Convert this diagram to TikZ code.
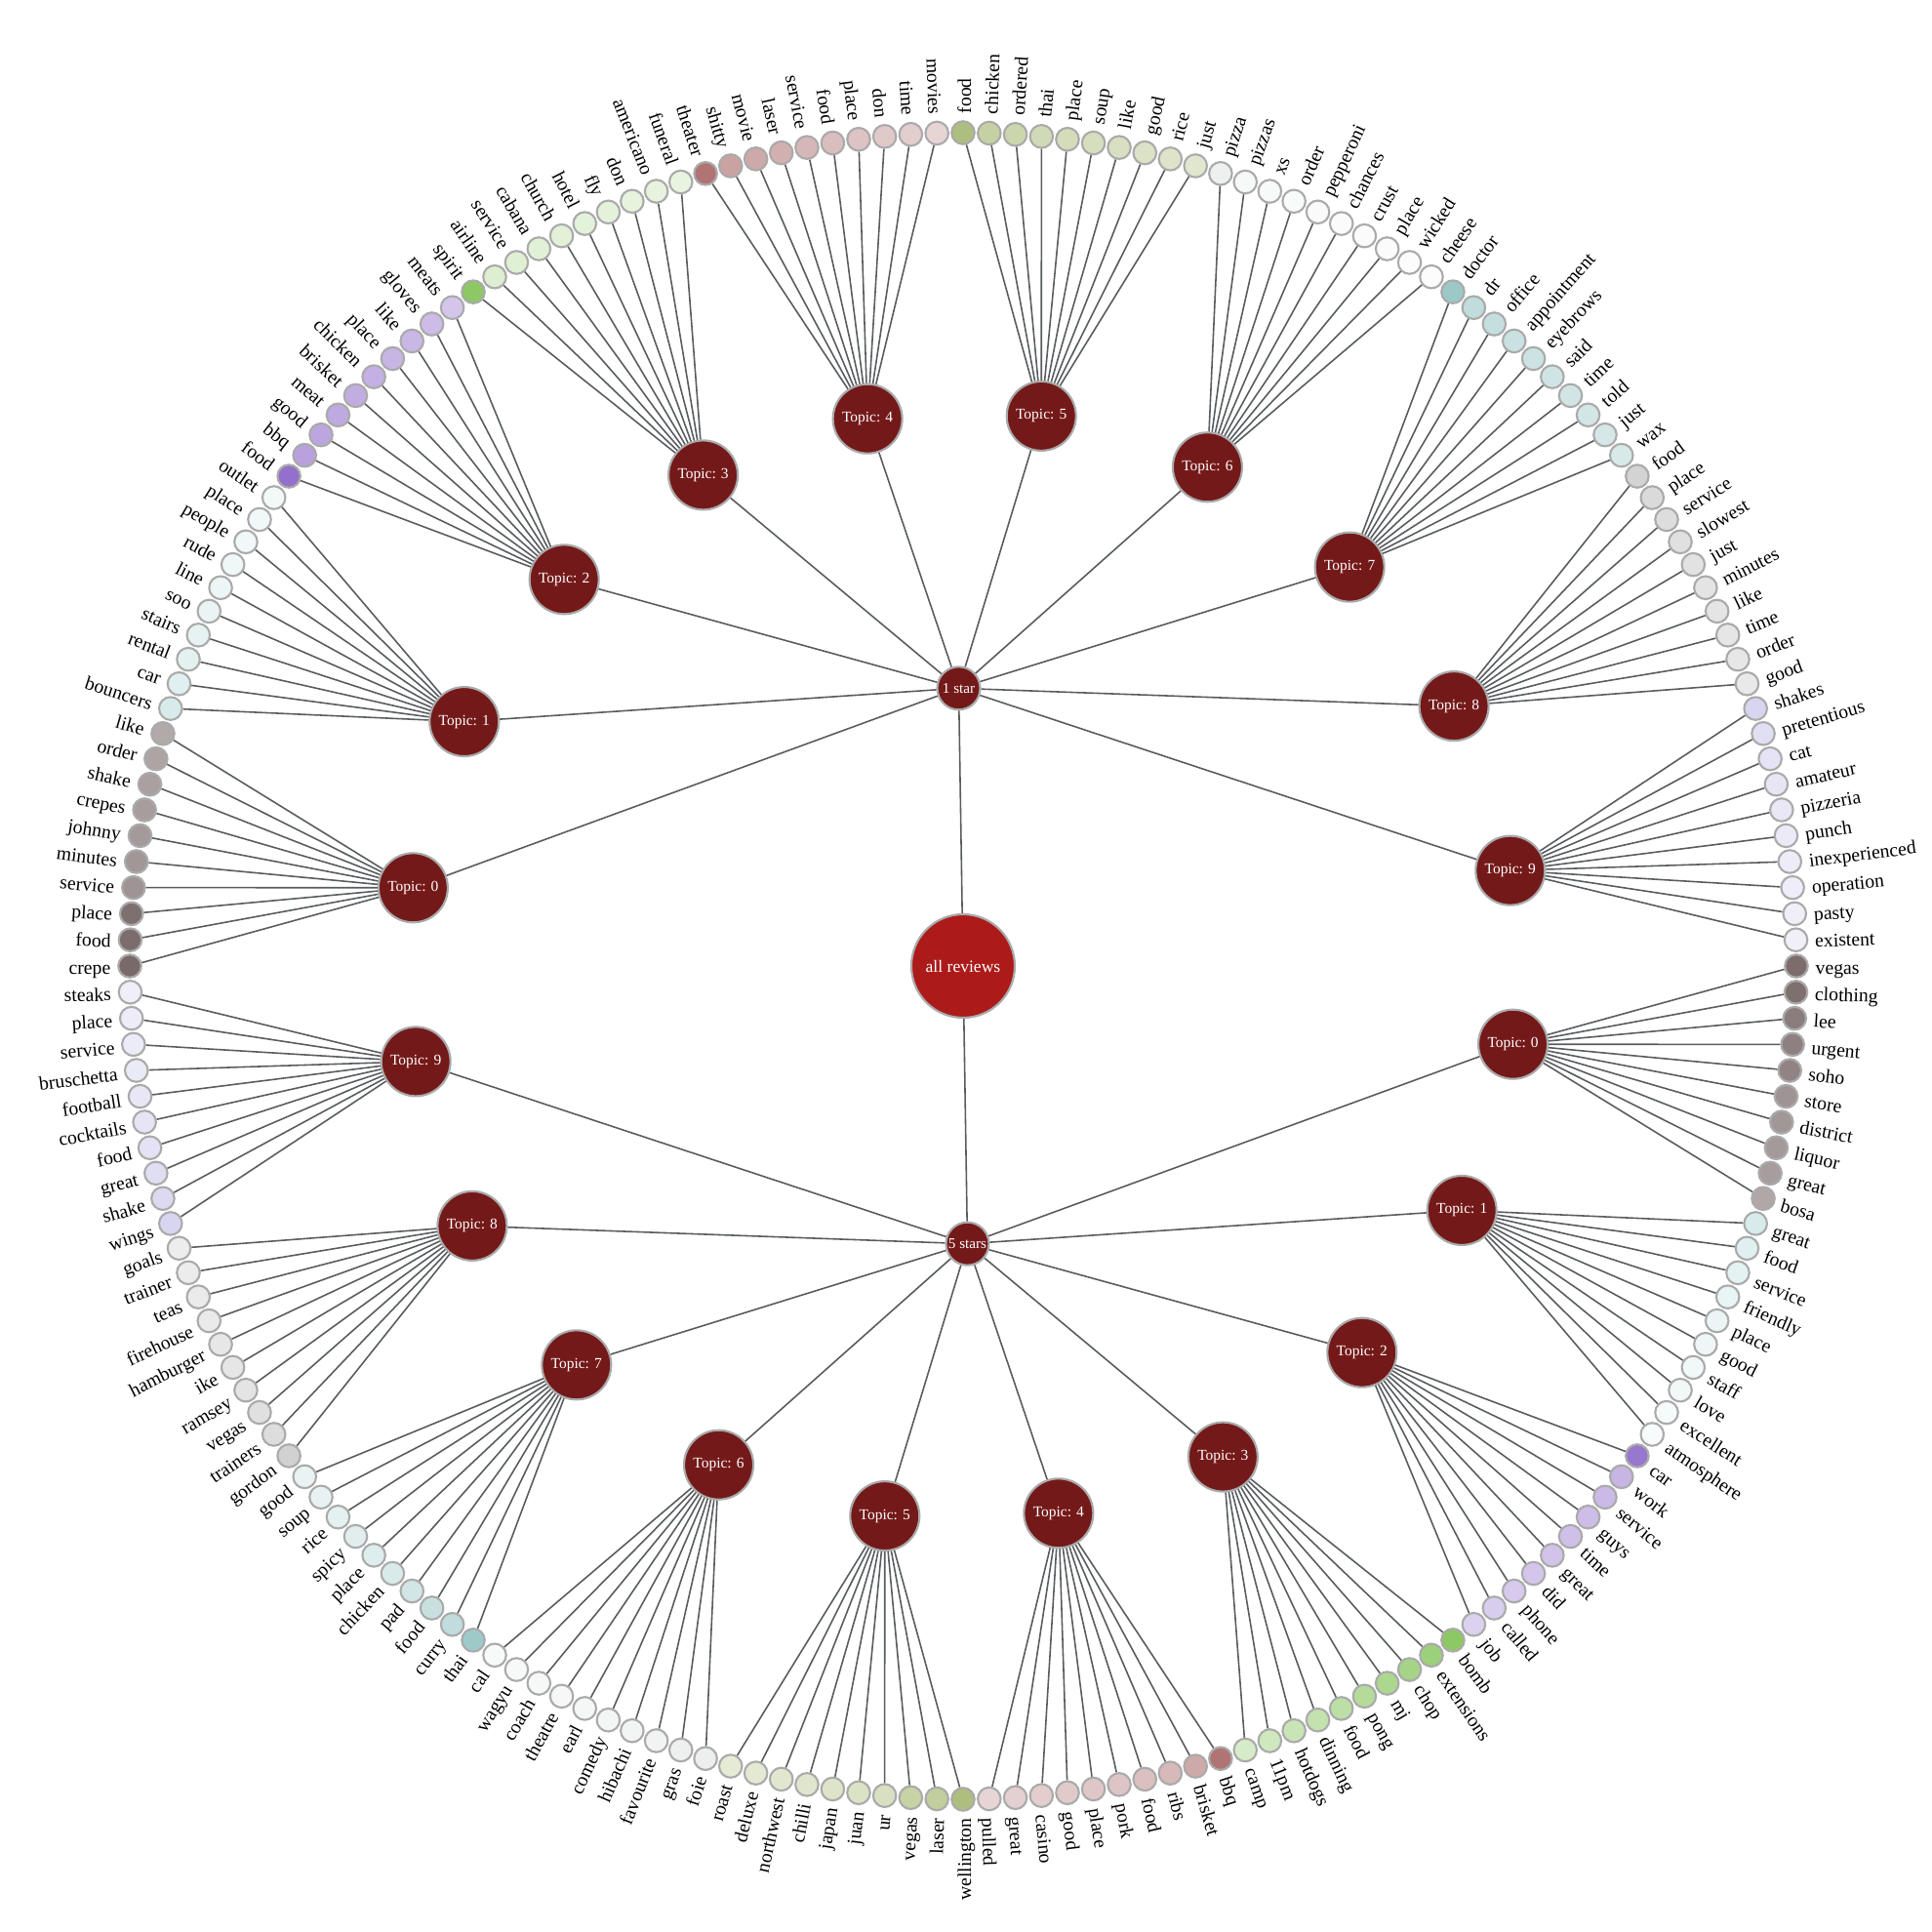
\documentclass[tikz,border=0pt]{standalone}
\usepackage{fontspec}
\setmainfont{Liberation Serif}
\usepackage{tikz}

\definecolor{topicred}{HTML}{741919}
\definecolor{rootred}{HTML}{AC1A1A}
\definecolor{rim}{HTML}{AAAAAA}
\definecolor{linkgray}{HTML}{585C5E}
\definecolor{hue0}{HTML}{6E5C5C}
\definecolor{hue1}{HTML}{7CBCBC}
\definecolor{hue2}{HTML}{9370CC}
\definecolor{hue3}{HTML}{8CC864}
\definecolor{hue4}{HTML}{B07474}
\definecolor{hue5}{HTML}{AABB77}
\definecolor{hue6}{HTML}{BCC4C4}
\definecolor{hue7}{HTML}{96C4C4}
\definecolor{hue8}{HTML}{C4C4C4}
\definecolor{hue9}{HTML}{C4C0E8}

\begin{document}
\begin{tikzpicture}[
    leaf/.style={circle, draw=rim, line width=0.6pt, minimum size=0.235cm, inner sep=0pt},
    topic/.style={circle, draw=rim, line width=0.6pt, fill=topicred,
                  minimum size=0.71cm, inner sep=0pt, text=white,
                  font=\fontsize{4.4}{5}\selectfont},
    stars/.style={topic, minimum size=0.44cm, font=\fontsize{4.3}{5}\selectfont},
    rootnode/.style={topic, fill=rootred, minimum size=1.06cm,
                  font=\fontsize{5}{6}\selectfont},
    word/.style={inner sep=0pt, font=\fontsize{5.6}{6}\selectfont},
    link/.style={draw=linkgray, line width=0.45pt}
]
\useasboundingbox (-9.87,-9.90) rectangle (9.93,9.90);
\node[rootnode] (all) at (0,0) {all reviews};
\node[stars] (one) at (90.9:2.847) {1 star};
\node[stars] (five) at (-89.1:2.847) {5 stars};
\draw[link] (all) -- (one);
\draw[link] (all) -- (five);
\foreach \g in {0,...,19}{
    \pgfmathtruncatemacro\h{mod(\g,10)}
    \pgfmathsetmacro\ta{171.9-18*\g}
    \node[topic] (t\g) at (\ta:5.693) {Topic: \h};
}
\foreach \g in {0,...,9} \draw[link] (one) -- (t\g);
\foreach \g in {10,...,19} \draw[link] (five) -- (t\g);
\foreach \g/\hue/\ws in {
0/hue0/{crepe/92,food/90,place/88,service/66,minutes/64,johnny/62,crepes/60,shake/58,order/56,like/53},
1/hue1/{bouncers/30,car/24,rental/21,stairs/18,soo/16,line/14,rude/12,people/11,place/10,outlet/9},
2/hue2/{food/100,bbq/66,good/62,meat/60,brisket/57,chicken/55,place/52,like/50,gloves/47,meats/40},
3/hue3/{spirit/100,airline/30,service/28,cabana/26,church/25,hotel/24,fly/23,don/22,americano/21,funeral/20},
4/hue4/{theater/100,shitty/67,movie/62,laser/57,service/52,food/47,place/43,don/39,time/35,movies/30},
5/hue5/{food/95,chicken/68,ordered/60,thai/54,place/51,soup/48,like/45,good/42,rice/39,just/36},
6/hue6/{pizza/25,pizzas/12,xs/10,order/9,pepperoni/8,chances/7,crust/6,place/6,wicked/5,cheese/5},
7/hue7/{doctor/93,dr/60,office/55,appointment/51,eyebrows/48,said/46,time/44,told/42,just/40,wax/38},
8/hue8/{food/75,place/63,service/57,slowest/52,just/49,minutes/46,like/44,time/42,order/40,good/37},
9/hue9/{shakes/66,pretentious/50,cat/44,amateur/40,pizzeria/36,punch/33,inexperienced/30,operation/28,pasty/26,existent/24},
10/hue0/{vegas/90,clothing/88,lee/80,urgent/78,soho/76,store/66,district/64,liquor/62,great/60,bosa/54},
11/hue1/{great/30,food/24,service/20,friendly/17,place/15,good/13,staff/11,love/10,excellent/8,atmosphere/6},
12/hue2/{car/95,work/52,service/48,guys/46,time/44,great/42,did/40,phone/37,called/35,job/32},
13/hue3/{bomb/100,extensions/85,chop/78,mj/72,pong/65,food/58,dinning/52,hotdogs/47,11pm/42,camp/36},
14/hue4/{bbq/100,brisket/62,ribs/50,food/45,pork/42,place/40,good/38,casino/36,great/34,pulled/30},
15/hue5/{wellington/95,laser/72,vegas/66,ur/45,juan/42,japan/40,chilli/37,northwest/35,deluxe/33,roast/30},
16/hue6/{foie/27,gras/25,favourite/20,hibachi/18,comedy/16,earl/15,theatre/14,coach/13,wagyu/12,cal/10},
17/hue7/{thai/92,curry/60,food/52,pad/42,chicken/36,place/31,spicy/28,rice/25,soup/22,good/20},
18/hue8/{gordon/78,trainers/58,vegas/52,ramsey/46,ike/42,hamburger/40,firehouse/36,teas/34,trainer/32,goals/30},
19/hue9/{wings/66,shake/60,great/52,food/46,cocktails/42,football/38,bruschetta/34,service/32,place/30,steaks/27}}{
    \pgfmathtruncatemacro\gi{\g}
    \foreach \w/\p [count=\k from 0] in \ws {
        \pgfmathtruncatemacro\i{10*\gi+\k}
        \pgfmathsetmacro\la{180-1.8*\i}
        \pgfmathsetmacro\ra{\la+180}
        \node[leaf, fill=\hue!\p!white] (w\i) at (\la:8.54) {};
        \draw[link] (t\gi) -- (w\i);
        \ifnum\i<50
            \node[word, rotate=\ra, anchor=mid east] (n\i) at (\la:8.73) {\w};
        \else\ifnum\i<150
            \node[word, rotate=\la, anchor=mid west] (n\i) at (\la:8.73) {\w};
        \else
            \node[word, rotate=\ra, anchor=mid east] (n\i) at (\la:8.73) {\w};
        \fi\fi
    }
}
\end{tikzpicture}
\end{document}
